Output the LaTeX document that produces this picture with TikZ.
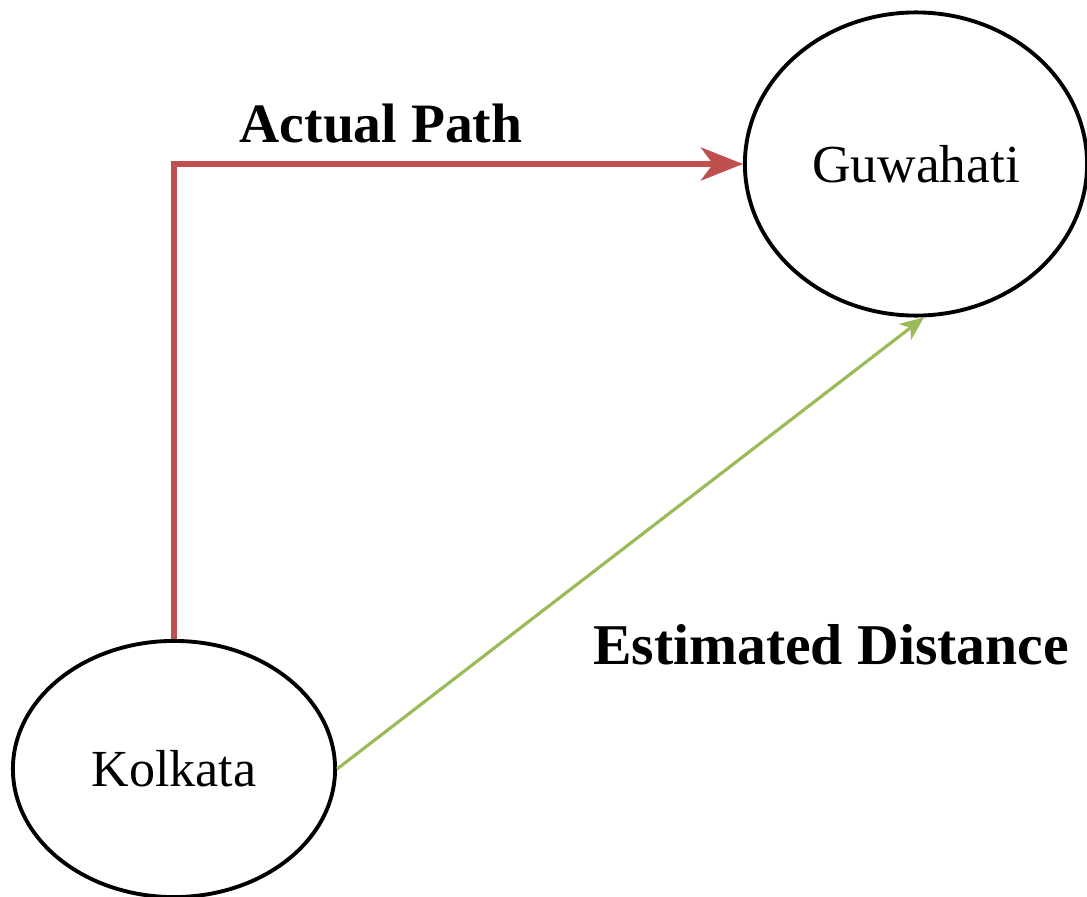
\documentclass[tikz,border=0pt]{standalone}
\usepackage{fontspec}
\setmainfont{Liberation Serif}
\usetikzlibrary{shapes.geometric,arrows.meta}
\definecolor{redpath}{HTML}{C0504D}
\definecolor{greenpath}{HTML}{9BBB59}
\tikzset{
  city/.style={draw=black, line width=1.1pt, ellipse, inner sep=0pt},
  actual/.style={draw=redpath, line width=1.5pt, -{Stealth[length=0.42cm,width=0.33cm,inset=0.12cm]}},
  estimate/.style={draw=greenpath, line width=0.9pt, -{Stealth[length=0.24cm,width=0.2cm,inset=0.07cm]}},
  lbl/.style={font=\bfseries, anchor=base}
}
\begin{document}
\begin{tikzpicture}[x=0.01cm,y=-0.01cm]
\useasboundingbox (0,0) rectangle (1087,897);
\node[city, minimum width=3.22cm, minimum height=2.56cm, font=\fontsize{14.8}{17}\selectfont] (k) at (174,769) {Kolkata};
\node[city, minimum width=3.42cm, minimum height=3.03cm, font=\fontsize{15.2}{17}\selectfont] (g) at (916,164) {Guwahati};
\draw[actual] (k.north) |- (g.west);
\draw[estimate] (k.east) -- (g.-87);
\node[lbl, font=\fontsize{15.8}{19}\selectfont\bfseries] (ap) at (381,142) {Actual Path};
\node[lbl, font=\fontsize{16.4}{20}\selectfont\bfseries] (ed) at (831,664) {Estimated Distance};
\end{tikzpicture}
\end{document}
